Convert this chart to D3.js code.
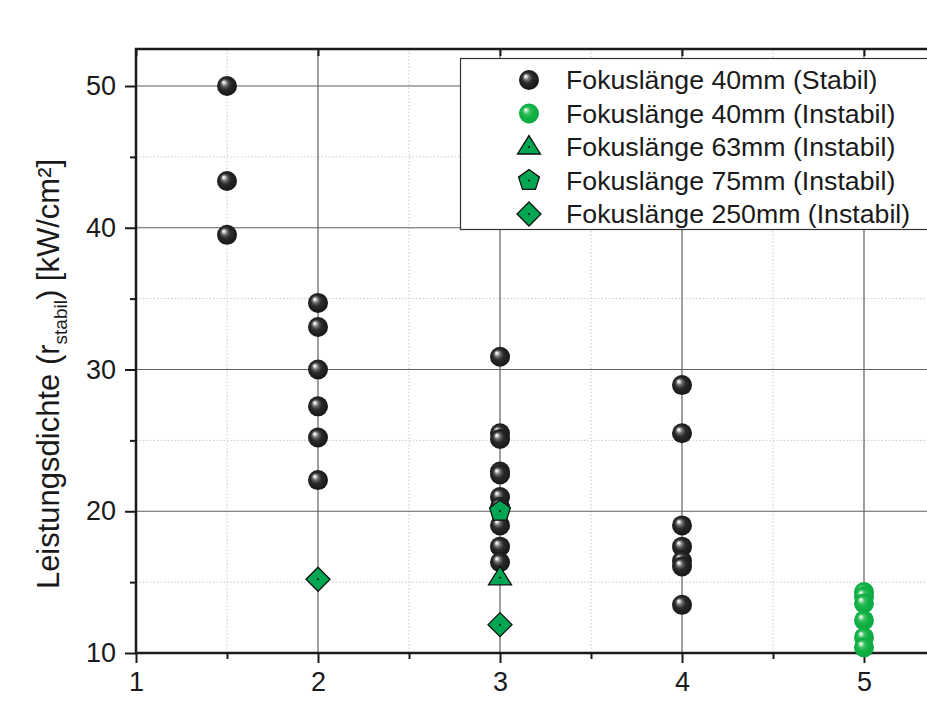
<!DOCTYPE html>
<html><head><meta charset="utf-8">
<script src="https://cdn.jsdelivr.net/npm/d3@7"></script>
<style>body{margin:0;background:#fff}svg{display:block;font-family:"Liberation Sans",Arial,sans-serif}</style>
</head><body><svg id="c" width="927" height="713"></svg>
<script>
// ---- data ----
const stabil40X = [1.5,1.5,1.5, 2,2,2,2,2,2, 3,3,3,3,3,3,3,3,3,3, 4,4,4,4,4,4,4];
const stabil40Y = [50,43.3,39.5, 34.7,33.0,30.0,27.4,25.2,22.2, 30.9,25.5,25.1,22.8,22.6,21.0,19.0,17.5,16.4,20.3, 28.9,25.5,19.0,17.5,16.5,16.1,13.4];
const instabil40X = [5,5,5,5,5,5];
const instabil40Y = [14.3,14.0,13.5,12.3,11.1,10.4];
const instabil63X = [3];
const instabil63Y = [15.3];
const instabil75X = [3];
const instabil75Y = [20.0];
const instabil250X = [2,3];
const instabil250Y = [15.2,12.0];
const xTicks = [1,2,3,4,5];
const yTicks = [10,20,30,40,50];
const legendLabels = ["Fokuslänge 40mm (Stabil)","Fokuslänge 40mm (Instabil)","Fokuslänge 63mm (Instabil)","Fokuslänge 75mm (Instabil)","Fokuslänge 250mm (Instabil)"];
const yLabelMain = "Leistungsdichte (r";
const yLabelSub = "stabil";
const yLabelEnd = ") [kW/cm²]";

// ---- layout ----
const svg = d3.select("#c");
const L = 136, T = 49, B = 653;
const x = d3.scaleLinear().domain([1,5]).range([L, 864]);
const xMax = 5.5;
const y = d3.scaleLinear().domain([10,50]).range([B, 86]);
const yTop = y.invert(T);
const R = x(xMax);
const green = "#00a651";

const defs = svg.append("defs");
function sphere(id, stops){
  const g = defs.append("radialGradient").attr("id",id).attr("cx","50%").attr("cy","50%").attr("r","55%").attr("fx","32%").attr("fy","30%");
  stops.forEach(s=>g.append("stop").attr("offset",s[0]).attr("stop-color",s[1]));
}
sphere("gBlack",[["0%","#ffffff"],["10%","#e0e0e0"],["28%","#6a6a6a"],["50%","#2a2a2a"],["100%","#141414"]]);
sphere("gGreen",[["0%","#ffffff"],["10%","#c9efd2"],["30%","#3cc060"],["55%","#12b246"],["100%","#0aa63e"]]);

// grid
const minorX = d3.range(1.5, xMax, 1);
const minorY = d3.range(15, yTop, 10);
const grid = svg.append("g");
grid.selectAll(".mx").data(minorX).join("line").attr("x1",d=>x(d)).attr("x2",d=>x(d)).attr("y1",T).attr("y2",B)
  .attr("stroke","#c8c8c8").attr("stroke-width",1).attr("stroke-dasharray","1.5,2");
grid.selectAll(".my").data(minorY).join("line").attr("x1",L).attr("x2",R).attr("y1",d=>y(d)).attr("y2",d=>y(d))
  .attr("stroke","#c8c8c8").attr("stroke-width",1).attr("stroke-dasharray","1.5,2");
grid.selectAll(".gx").data(xTicks.filter(d=>d>1)).join("line").attr("x1",d=>x(d)).attr("x2",d=>x(d)).attr("y1",T).attr("y2",B)
  .attr("stroke","#5e6262").attr("stroke-width",1.2);
grid.selectAll(".gy").data(yTicks.filter(d=>d>10)).join("line").attr("x1",L).attr("x2",R).attr("y1",d=>y(d)).attr("y2",d=>y(d))
  .attr("stroke","#5e6262").attr("stroke-width",1.2);

// axes
const axisStyle = g=>{g.select(".domain").remove(); g.selectAll("line").attr("stroke","#1a1a1a").attr("stroke-width",2);
  g.selectAll("text").attr("font-size",27).attr("fill","#1a1a1a").attr("font-family","'Liberation Sans',Arial,sans-serif");};
svg.append("g").attr("transform",`translate(0,${B})`).call(d3.axisBottom(x).tickValues(xTicks).tickFormat(d3.format("d")).tickSize(10).tickPadding(9)).call(axisStyle);
svg.append("g").attr("transform",`translate(0,${B})`).call(d3.axisBottom(x).tickValues(minorX).tickFormat("").tickSize(6)).call(axisStyle);
svg.append("g").attr("transform",`translate(${L},0)`).call(d3.axisLeft(y).tickValues(yTicks).tickFormat(d3.format("d")).tickSize(11).tickPadding(9)).call(axisStyle);
svg.append("g").attr("transform",`translate(${L},0)`).call(d3.axisLeft(y).tickValues(minorY).tickFormat("").tickSize(6)).call(axisStyle);
svg.append("g").attr("transform",`translate(0,${T})`).call(d3.axisBottom(x).tickValues(xTicks).tickFormat("").tickSize(7)).call(axisStyle);
// frame
svg.append("path").attr("d",`M${R},${T}H${L}V${B}H${R}`).attr("fill","none").attr("stroke","#1a1a1a").attr("stroke-width",2.5);

// marker shapes
function triPath(s){const h=s*0.8;return `M0,${-h*0.62}L${s/2},${h*0.38}L${-s/2},${h*0.38}Z`;}
function pentPath(r){return d3.range(5).map(i=>{const a=-Math.PI/2+i*2*Math.PI/5;return [r*Math.cos(a),r*Math.sin(a)];}).map((p,i)=>(i?"L":"M")+p[0].toFixed(2)+","+p[1].toFixed(2)).join("")+"Z";}
function diaPath(r){return `M0,${-r}L${r},0L0,${r}L${-r},0Z`;}
const shapes = {
  black: g=>g.append("circle").attr("r",10).attr("fill","url(#gBlack)"),
  green: g=>g.append("circle").attr("r",10).attr("fill","url(#gGreen)"),
  tri: g=>{g.append("path").attr("d",triPath(23)).attr("fill",green).attr("stroke","#111").attr("stroke-width",1.3);g.append("circle").attr("r",1).attr("fill","#111");},
  pent: g=>{g.append("path").attr("d",pentPath(11)).attr("fill",green).attr("stroke","#111").attr("stroke-width",1.3);g.append("circle").attr("r",1).attr("fill","#111");},
  dia: g=>{g.append("path").attr("d",diaPath(12)).attr("fill",green).attr("stroke","#111").attr("stroke-width",1.3);g.append("circle").attr("r",1).attr("fill","#111");}
};
function plot(xs, ys, kind){
  const pts = xs.map((d,i)=>[d, ys[i]]);
  svg.append("g").selectAll("g").data(pts).join("g").attr("transform",d=>`translate(${x(d[0])},${y(d[1])})`).each(function(){shapes[kind](d3.select(this));});
}
plot(stabil40X, stabil40Y, "black");
plot(instabil40X, instabil40Y, "green");
plot(instabil250X, instabil250Y, "dia");
plot(instabil63X, instabil63Y, "tri");
plot(instabil75X, instabil75Y, "pent");

// legend
const lg = svg.append("g");
lg.append("rect").attr("x",460.5).attr("y",58.5).attr("width",520).attr("height",171).attr("fill","#fff").attr("stroke","#333").attr("stroke-width",1.2);
const kinds = ["black","green","tri","pent","dia"];
legendLabels.forEach((t,i)=>{
  const cy = 80 + i*33.5;
  const g = lg.append("g").attr("transform",`translate(529,${cy})`);
  shapes[kinds[i]](g);
  lg.append("text").attr("x",566).attr("y",cy+9).attr("font-size",26.7).attr("fill","#1a1a1a").text(t);
});

// y label
const yl = svg.append("text").attr("transform","translate(59,374) rotate(-90)").attr("text-anchor","middle").attr("font-size",31).attr("fill","#1a1a1a");
yl.append("tspan").text(yLabelMain);
yl.append("tspan").attr("font-size",19).attr("dy",8).text(yLabelSub);
yl.append("tspan").attr("dy",-8).text(yLabelEnd);
</script></body></html>
